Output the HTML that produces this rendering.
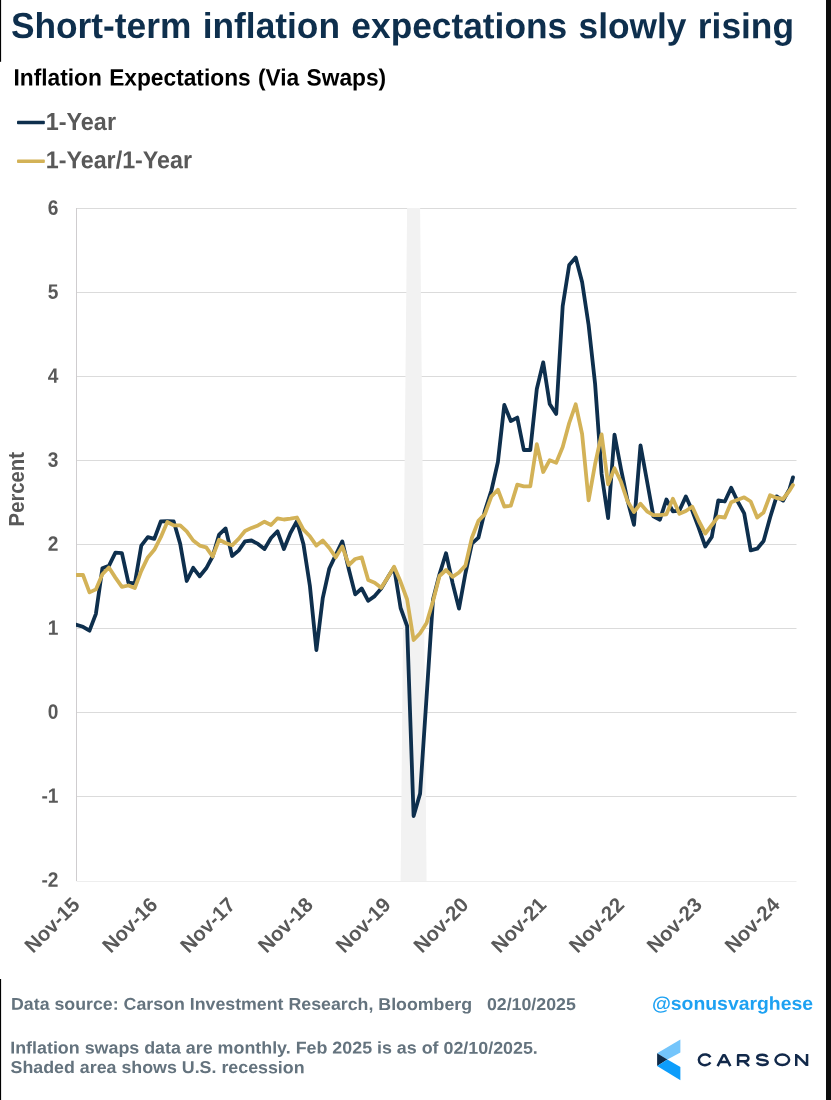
<!DOCTYPE html>
<html><head><meta charset="utf-8"><title>Short-term inflation expectations slowly rising</title>
<style>
html,body{margin:0;padding:0;background:#fff;}
body{width:831px;height:1100px;position:relative;overflow:hidden;font-family:"Liberation Sans",sans-serif;}
svg{position:absolute;left:0;top:0;will-change:transform;}
svg text{font-family:"Liberation Sans",sans-serif;font-weight:bold;white-space:pre;}
.ax text{fill:#595959;font-size:20.3px;}
.ft text{fill:#64737e;font-size:16.4px;}
</style></head><body>
<svg width="831" height="1100" viewBox="0 0 831 1100">
<rect x="0" y="0" width="831" height="1100" fill="#ffffff"/>
<!-- frame fragments -->
<rect x="0" y="0" width="1.1" height="61.8" fill="#000"/>
<rect x="0" y="979" width="1.1" height="121" fill="#000"/>
<rect x="826" y="0" width="5" height="1100" fill="#0d0d0d"/>
<!-- headings -->
<text transform="translate(10.9,37.9) rotate(0.03) scale(1,1.022)" font-size="35.3" fill="#0e2f4d" style="word-spacing:1.6px">Short-term inflation expectations slowly rising</text>
<text transform="translate(13.5,85.4) rotate(0.03) scale(1,1.04)" font-size="22.75" fill="#000" style="word-spacing:1px">Inflation Expectations (Via Swaps)</text>
<!-- legend -->
<rect x="17" y="120.8" width="27.85" height="3.4" rx="0.9" fill="#0e2f4d"/>
<rect x="17" y="159.6" width="27.85" height="3.4" rx="0.9" fill="#d3b257"/>
<text transform="translate(45.75,129.9) rotate(0.03) scale(1,1.05)" font-size="23.4" fill="#595959">1-Year</text>
<text transform="translate(45.75,168.3) rotate(0.03) scale(1,1.05)" font-size="23.3" fill="#595959">1-Year/1-Year</text>
<!-- plot -->
<g stroke="#dbdbdb" stroke-width="1"><line x1="76.5" x2="796.5" y1="208.5" y2="208.5"/><line x1="76.5" x2="796.5" y1="292.5" y2="292.5"/><line x1="76.5" x2="796.5" y1="376.5" y2="376.5"/><line x1="76.5" x2="796.5" y1="460.5" y2="460.5"/><line x1="76.5" x2="796.5" y1="544.5" y2="544.5"/><line x1="76.5" x2="796.5" y1="628.5" y2="628.5"/><line x1="76.5" x2="796.5" y1="712.5" y2="712.5"/><line x1="76.5" x2="796.5" y1="796.5" y2="796.5"/><line x1="76.5" x2="796.5" y1="881.5" y2="881.5" stroke="#eeeeee"/><line x1="76.5" x2="76.5" y1="208" y2="881" stroke="#cfcdcf"/></g>
<polygon points="400.6,881 407.1,208 420.1,208 426.6,881" fill="#f2f2f2"/>
<clipPath id="cp"><rect x="76" y="200" width="730" height="690"/></clipPath>
<g fill="none" stroke-width="3.8" stroke-linejoin="round" stroke-linecap="round" clip-path="url(#cp)">
<path d="M76.5,624.8 L83.0,626.8 L89.5,630.7 L95.9,613.8 L102.4,568.3 L108.9,565.8 L115.4,552.7 L121.9,553.2 L128.4,582.7 L134.8,583.5 L141.3,545.6 L147.8,537.2 L154.3,538.9 L160.8,521.5 L167.3,521.2 L173.7,521.5 L180.2,543.9 L186.7,581.0 L193.2,567.8 L199.7,576.3 L206.2,568.3 L212.6,556.5 L219.1,534.6 L225.6,528.4 L232.1,556.0 L238.6,550.6 L245.0,541.4 L251.5,540.5 L258.0,543.9 L264.5,549.0 L271.0,538.0 L277.5,531.3 L283.9,549.0 L290.4,533.0 L296.9,521.2 L303.4,543.9 L309.9,586.0 L316.4,650.0 L322.8,597.8 L329.3,568.5 L335.8,554.9 L342.3,541.4 L348.8,569.2 L355.2,594.4 L361.7,588.5 L368.2,600.8 L374.7,596.1 L381.2,588.5 L387.7,577.6 L394.1,567.5 L400.6,608.0 L407.1,626.0 L413.6,816.0 L420.1,793.6 L426.6,696.5 L433.0,599.5 L439.5,574.2 L446.0,553.2 L452.5,582.7 L459.0,608.6 L465.4,573.5 L471.9,543.6 L478.4,537.7 L484.9,510.8 L491.4,490.5 L497.9,462.0 L504.3,405.0 L510.8,421.0 L517.3,417.6 L523.8,450.0 L530.3,450.0 L536.8,389.0 L543.2,362.4 L549.7,404.0 L556.2,414.0 L562.7,306.0 L569.2,265.0 L575.7,257.6 L582.1,282.0 L588.6,325.0 L595.1,384.0 L601.6,474.0 L608.1,518.0 L614.5,434.6 L621.0,469.0 L627.5,500.3 L634.0,524.8 L640.5,445.3 L647.0,481.0 L653.4,516.3 L659.9,519.7 L666.4,499.5 L672.9,511.3 L679.4,510.5 L685.9,496.4 L692.3,510.8 L698.8,528.0 L705.3,546.5 L711.8,536.9 L718.3,500.3 L724.8,501.5 L731.2,487.7 L737.7,501.5 L744.2,513.3 L750.7,550.3 L757.2,548.7 L763.6,541.0 L770.1,517.5 L776.6,496.4 L783.1,500.6 L789.6,488.9 L793.0,477.4" stroke="#0e2f4d"/>
<path d="M76.5,575.0 L83.0,575.0 L89.5,592.4 L95.9,589.4 L102.4,574.2 L108.9,567.5 L115.4,577.6 L121.9,586.9 L128.4,585.5 L134.8,588.0 L141.3,570.9 L147.8,557.4 L154.3,549.8 L160.8,537.2 L167.3,522.0 L173.7,525.4 L180.2,525.4 L186.7,531.3 L193.2,540.5 L199.7,545.6 L206.2,547.3 L212.6,556.5 L219.1,539.7 L225.6,543.0 L232.1,545.3 L238.6,538.9 L245.0,531.0 L251.5,527.9 L258.0,525.4 L264.5,521.7 L271.0,525.0 L277.5,518.3 L283.9,519.5 L290.4,518.6 L296.9,517.5 L303.4,529.6 L309.9,536.3 L316.4,545.6 L322.8,540.5 L329.3,548.0 L335.8,557.4 L342.3,546.4 L348.8,565.0 L355.2,559.0 L361.7,557.4 L368.2,580.0 L374.7,582.7 L381.2,587.7 L387.7,577.6 L394.1,566.7 L400.6,581.8 L407.1,599.5 L413.6,640.0 L420.1,633.2 L426.6,623.0 L433.0,601.2 L439.5,576.0 L446.0,570.0 L452.5,576.8 L459.0,572.5 L465.4,565.6 L471.9,537.7 L478.4,520.9 L484.9,514.1 L491.4,496.4 L497.9,489.7 L504.3,506.5 L510.8,505.7 L517.3,484.6 L523.8,486.3 L530.3,486.3 L536.8,444.2 L543.2,472.0 L549.7,460.2 L556.2,462.7 L562.7,447.0 L569.2,423.0 L575.7,404.3 L582.1,434.0 L588.6,500.4 L595.1,464.0 L601.6,434.4 L608.1,484.3 L614.5,468.3 L621.0,481.8 L627.5,501.2 L634.0,512.0 L640.5,503.7 L647.0,511.3 L653.4,515.2 L659.9,515.2 L666.4,514.3 L672.9,498.7 L679.4,513.8 L685.9,511.0 L692.3,506.7 L698.8,521.0 L705.3,533.5 L711.8,525.0 L718.3,516.6 L724.8,517.5 L731.2,502.3 L737.7,499.8 L744.2,497.3 L750.7,501.5 L757.2,517.5 L763.6,512.4 L770.1,495.3 L776.6,498.0 L783.1,499.0 L789.6,490.5 L793.0,485.0" stroke="#d3b257"/>
</g>
<g class="ax"><text transform="translate(58.4,214.8) rotate(0.03) scale(0.92,1)" style="font-size:20.8px" text-anchor="end">6</text><text transform="translate(58.4,298.8) rotate(0.03) scale(0.92,1)" style="font-size:20.8px" text-anchor="end">5</text><text transform="translate(58.4,382.8) rotate(0.03) scale(0.92,1)" style="font-size:20.8px" text-anchor="end">4</text><text transform="translate(58.4,466.8) rotate(0.03) scale(0.92,1)" style="font-size:20.8px" text-anchor="end">3</text><text transform="translate(58.4,550.8) rotate(0.03) scale(0.92,1)" style="font-size:20.8px" text-anchor="end">2</text><text transform="translate(58.4,634.8) rotate(0.03) scale(0.92,1)" style="font-size:20.8px" text-anchor="end">1</text><text transform="translate(58.4,718.8) rotate(0.03) scale(0.92,1)" style="font-size:20.8px" text-anchor="end">0</text><text transform="translate(58.4,802.8) rotate(0.03) scale(0.92,1)" style="font-size:20.8px" text-anchor="end">-1</text><text transform="translate(58.4,886.8) rotate(0.03) scale(0.92,1)" style="font-size:20.8px" text-anchor="end">-2</text><text transform="translate(80.9,906.1) rotate(-45) scale(1,1.012)" text-anchor="end">Nov-15</text><text transform="translate(158.7,906.1) rotate(-45) scale(1,1.012)" text-anchor="end">Nov-16</text><text transform="translate(236.5,906.1) rotate(-45) scale(1,1.012)" text-anchor="end">Nov-17</text><text transform="translate(314.3,906.1) rotate(-45) scale(1,1.012)" text-anchor="end">Nov-18</text><text transform="translate(392.1,906.1) rotate(-45) scale(1,1.012)" text-anchor="end">Nov-19</text><text transform="translate(469.8,906.1) rotate(-45) scale(1,1.012)" text-anchor="end">Nov-20</text><text transform="translate(547.6,906.1) rotate(-45) scale(1,1.012)" text-anchor="end">Nov-21</text><text transform="translate(625.4,906.1) rotate(-45) scale(1,1.012)" text-anchor="end">Nov-22</text><text transform="translate(703.2,906.1) rotate(-45) scale(1,1.012)" text-anchor="end">Nov-23</text><text transform="translate(781.0,906.1) rotate(-45) scale(1,1.012)" text-anchor="end">Nov-24</text>
<text transform="translate(23.9,526.4) rotate(-90) scale(1,1.05)">Percent</text>
</g>
<!-- footer -->
<g class="ft">
<text transform="translate(11.0,1009.7) rotate(0.03) scale(1.0845,1.04)">Data source: Carson Investment Research, Bloomberg   02/10/2025</text>
<text transform="translate(10.25,1053.4) rotate(0.03) scale(1.0895,1.04)">Inflation swaps data are monthly. Feb 2025 is as of 02/10/2025.</text>
<text transform="translate(10.5,1073.0) rotate(0.03) scale(1.0866,1.04)">Shaded area shows U.S. recession</text>
</g>
<text transform="translate(651.9,1009.7) rotate(0.03) scale(1,0.96)" font-size="19.4" fill="#1da1f2">@sonusvarghese</text>
<!-- carson logo -->
<polygon points="680.4,1039.4 680.4,1052.4 667.4,1059.6 657.1,1053.2" fill="#74c5fb"/>
<polygon points="657.1,1053.2 667.4,1059.6 657.1,1066.1" fill="#0e2a47"/>
<polygon points="657.1,1066.1 667.4,1059.6 680.4,1067 680.4,1080.2" fill="#0d9dfb"/>
<g fill="none" stroke="#12294a" stroke-width="2.5" stroke-linejoin="round">
<path d="M710.4 1057.25 A6.15 5.35 0 1 0 710.4 1062.35"/>
<path d="M717.6 1066.1 L723.3 1055.2 L724.7 1055.2 L730.4 1066.1 M720 1062 H728"/>
<path d="M738.1 1066.1 V1055.25 H745.4 A3 3 0 0 1 745.4 1061.25 H738.1 M744 1061.25 L749 1066.1"/>
<path d="M767.2 1057 C766.4 1055.2 764.4 1054.65 762.3 1054.65 C759.4 1054.65 757.2 1055.6 757.2 1057.5 C757.2 1059.3 759.6 1059.6 762.5 1059.9 C765.6 1060.2 767.7 1060.7 767.7 1062.3 C767.7 1064.1 765.4 1064.95 762.5 1064.95 C760.1 1064.95 757.9 1064.3 756.9 1062.5"/>
<ellipse cx="782.3" cy="1059.8" rx="6.85" ry="5.2"/>
<path d="M796.25 1066.1 V1054 M807.05 1066.1 V1054 M796.6 1054.9 L806.7 1065.2"/>
</g>
</svg>
</body></html>
